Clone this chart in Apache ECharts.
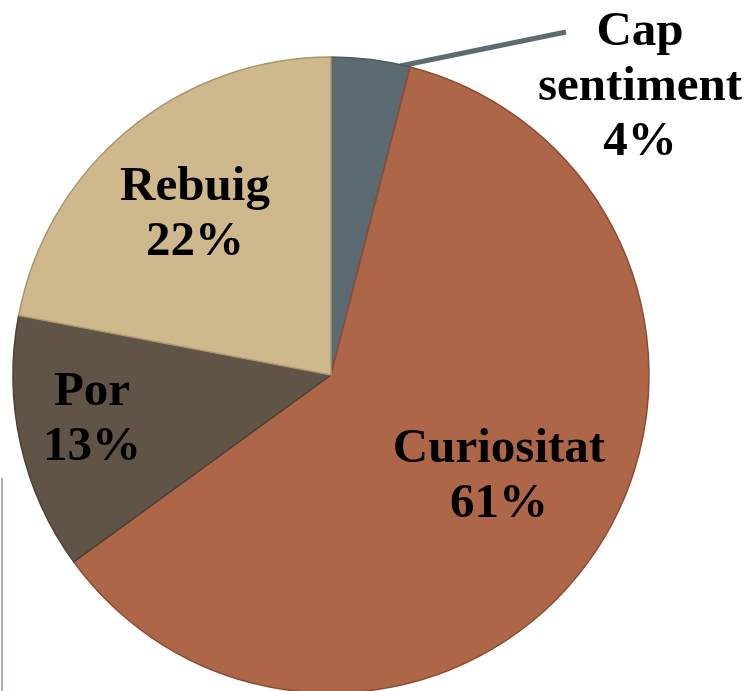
<!DOCTYPE html>
<html lang="ca">
<head>
	<meta charset="utf-8" />
	<title>Sentiments</title>
	<script src="https://cdn.jsdelivr.net/npm/echarts@6/dist/echarts.min.js"></script>
	<style>
		html,body{margin:0;padding:0;background:#fff;}
		#mainchart{width:748px;height:691px;}
	</style>
</head>
<body>
	<div id="mainchart"></div>
	<script>
	// dades del gràfic
	var categories = ['Cap sentiment', 'Curiositat', 'Por', 'Rebuig'];
	var values = [4, 61, 13, 22];
	var colors = ['#5b6b71', '#ad6647', '#5f5446', '#cfb98c'];
	var borders = ['#4d5b61', '#8c4c31', '#4a4036', '#a99670'];

	// posició de cada etiqueta (centre del bloc de text)
	var labelPos = [[640, 87], [499, 477], [92, 420], [195, 215]];

	var myChart = echarts.init(document.getElementById('mainchart'));

	var data = [];
	for (var i = 0; i < categories.length; i++) {
		data.push({
			name: categories[i],
			value: values[i],
			itemStyle: {color: colors[i], borderColor: borders[i], borderWidth: 1.5},
			label: {position: i == 0 ? 'outside' : 'inside'},
			labelLine: {show: i == 0, lineStyle: {color: '#5b6b71', width: 5}}
		});
	}

	var option = {
		backgroundColor: '#fff',
		animation: false,
		graphic: [{
			type: 'rect',
			shape: {x: 1, y: 478, width: 2, height: 213},
			style: {fill: '#a9b3ad'}
		}],
		series: [{
			type: 'pie',
			center: [331, 375],
			radius: 318,
			startAngle: 90,
			clockwise: true,
			data: data,
			label: {
				show: true,
				formatter: function (p) {
					var n = p.name == 'Cap sentiment' ? 'Cap\nsentiment' : p.name;
					return n + '\n' + p.value + '%';
				},
				fontFamily: 'Liberation Serif',
				fontWeight: 'bold',
				fontSize: 49,
				lineHeight: 55,
				color: '#000',
				align: 'center',
				overflow: 'none'
			},
			labelLine: {show: true, length: 20, length2: 20},
			labelLayout: function (params) {
				var p = labelPos[params.dataIndex];
				var res = {x: p[0], y: p[1], align: 'center', verticalAlign: 'middle', hideOverlap: false};
				if (params.dataIndex == 0) {
					res.labelLinePoints = [[400, 66], [483, 49], [566, 32]];
				}
				return res;
			},
			emphasis: {disabled: true}
		}]
	};

	myChart.setOption(option);
	</script>
</body>
</html>
